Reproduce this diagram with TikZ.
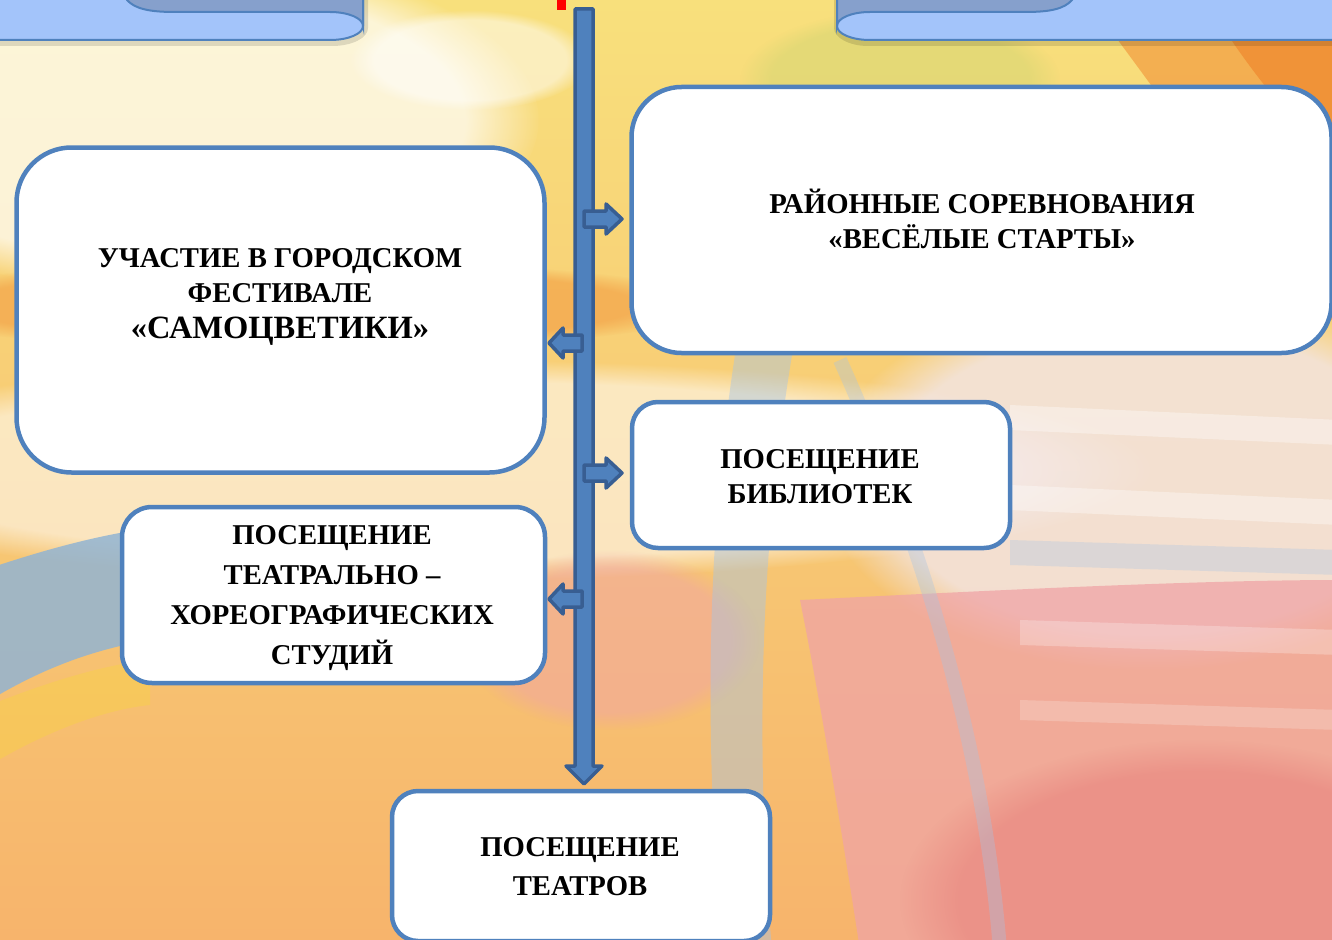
\documentclass[tikz,border=0pt]{standalone}
\usepackage{fontspec}
\setmainfont{Liberation Serif}
\usetikzlibrary{fadings}
\definecolor{bord}{HTML}{4F81BD}
\definecolor{dkbord}{HTML}{385E92}
\definecolor{scrl}{HTML}{A3C4FA}
\definecolor{scrld}{HTML}{86A0CC}
\definecolor{bgtop}{HTML}{F8E07C}
\definecolor{bgmid}{HTML}{F4D2CC}
\definecolor{bgbot}{HTML}{F7B46C}
\definecolor{orng}{HTML}{F08A30}
\definecolor{swoosh}{HTML}{92B4D2}
\definecolor{pinkr}{HTML}{F0A4A6}
\definecolor{salm}{HTML}{E8847E}
\definecolor{arcblue}{HTML}{A6C4E4}
\definecolor{greeny}{HTML}{D4D672}
\definecolor{lav}{HTML}{F2E8F0}
\tikzset{
  box/.style={draw=bord, line width=4.5pt, fill=white},
  boxtext/.style={align=center, inner sep=0pt, font=\fontsize{28.7}{35}\selectfont\bfseries},
  blockarrow/.style={draw=dkbord, line width=3.5pt, fill=bord, line join=round},
  scrollline/.style={draw=bord, line width=2pt},
  soft/.style={path fading=circle with fuzzy edge 20 percent}
}
\begin{document}
\begin{tikzpicture}[x=1pt,y=-1pt]
\useasboundingbox (0,0) rectangle (1332,939);
\clip (0,0) rectangle (1332,939);
% ---------- background ----------
\shade[top color=bgtop, middle color=bgmid, bottom color=bgbot] (0,0) rectangle (1332,939);
\fill[white, opacity=.7, soft] (160,120) ellipse (380 and 170);
\fill[white, opacity=.5, soft] (470,60) ellipse (120 and 50);
\fill[greeny, opacity=.55, soft] (900,80) ellipse (160 and 70);
\fill[orng, opacity=.55] (1080,-10) .. controls (1150,80) and (1230,200) .. (1340,330) -- (1340,-10) -- cycle;
\fill[orng, opacity=.75] (1200,-10) .. controls (1240,60) and (1290,120) .. (1340,170) -- (1340,-10) -- cycle;
\fill[orng, opacity=.45, soft] (300,305) ellipse (420 and 45);
\fill[white, opacity=.55, soft] (450,470) ellipse (700 and 110);
\fill[lav, opacity=.75, soft] (1150,480) ellipse (330 and 190);
\fill[white, opacity=.35] (1010,405) -- (1340,420) -- (1340,445) -- (1010,430) -- cycle;
\fill[white, opacity=.35] (1010,485) -- (1340,500) -- (1340,525) -- (1010,510) -- cycle;
\fill[arcblue, opacity=.3] (1010,540) -- (1340,550) -- (1340,575) -- (1010,565) -- cycle;
\fill[swoosh, opacity=.85] (-10,568) .. controls (50,548) and (100,535) .. (150,528) -- (150,640) .. controls (90,650) and (40,670) .. (-10,700) -- cycle;
\fill[yellow!60!bgbot, opacity=.3] (-10,705) .. controls (40,685) and (100,665) .. (150,660) -- (150,705) .. controls (100,710) and (40,735) .. (-10,765) -- cycle;
\fill[pinkr, opacity=.5, soft] (610,640) ellipse (150 and 90);
\fill[pinkr, opacity=.75] (800,600) .. controls (1000,590) and (1200,580) .. (1340,580) -- (1340,950) -- (860,950) .. controls (840,820) and (820,700) .. (800,600) -- cycle;
\fill[salm, opacity=.6, soft] (1200,900) ellipse (300 and 160);
\fill[white, opacity=.25] (1020,620) -- (1340,630) -- (1340,655) -- (1020,645) -- cycle;
\fill[white, opacity=.2] (1020,700) -- (1340,710) -- (1340,730) -- (1020,720) -- cycle;
\fill[arcblue, opacity=.45] (735,355) .. controls (705,550) and (705,750) .. (722,950) -- (772,950) .. controls (755,750) and (760,550) .. (792,355) -- cycle;
\draw[arcblue, opacity=.35, line width=14pt] (840,360) .. controls (930,560) and (985,760) .. (1000,950);
% ---------- scrolls at top ----------
\fill[black, opacity=.12] (-5,-5) -- (-5,46) -- (332,46) .. controls (352,46) and (368,38) .. (368,28) -- (368,-5) -- cycle;
\fill[black, opacity=.12] (1340,-5) -- (1340,46) -- (868,46) .. controls (850,46) and (834,38) .. (834,28) -- (834,-5) -- cycle;
\path[fill=scrl, scrollline] (-5,-5) -- (-5,40) -- (330,40) .. controls (348,40) and (363,34) .. (363,26) -- (363,-5) -- cycle;
\path[fill=scrld, scrollline] (127,-5) -- (127,0) .. controls (135,9) and (150,12) .. (175,12) -- (330,12) .. controls (348,12) and (363,18) .. (363,26) -- (363,-5) -- cycle;
\path[fill=scrl, scrollline] (1340,-5) -- (1340,40) -- (870,40) .. controls (852,40) and (837,34) .. (837,26) -- (837,-5) -- cycle;
\path[fill=scrld, scrollline] (1072,-5) -- (1072,0) .. controls (1064,9) and (1050,12) .. (1025,12) -- (870,12) .. controls (852,12) and (837,18) .. (837,26) -- (837,-5) -- cycle;
\fill[red] (557,-2) rectangle (566,10);
% ---------- main arrow ----------
\path[blockarrow] (575,9) -- (593,9) -- (593,766) -- (602,766) -- (584,784) -- (566,766) -- (575,766) -- cycle;
% ---------- boxes ----------
\node[box, minimum width=528pt, minimum height=325pt, rounded corners=55pt] (b1) at (280.5,310) {};
\node[box, minimum width=700pt, minimum height=266pt, rounded corners=50pt] (b2) at (981.5,220) {};
\node[box, minimum width=378pt, minimum height=146pt, rounded corners=26pt] (b3) at (821,475) {};
\node[box, minimum width=423pt, minimum height=176pt, rounded corners=30pt] (b4) at (333.5,595) {};
\node[box, minimum width=378pt, minimum height=150pt, rounded corners=26pt] (b5) at (581,866) {};
% ---------- texts ----------
\node[boxtext] (t1) at (280,297) {УЧАСТИЕ В ГОРОДСКОМ\\ФЕСТИВАЛЕ\\[1pt]{\fontsize{32.5}{36}\selectfont «САМОЦВЕТИКИ»}};
\node[boxtext] (t2) at (982,219) {РАЙОННЫЕ СОРЕВНОВАНИЯ\\«ВЕСЁЛЫЕ СТАРТЫ»};
\node[boxtext] (t3) at (820,477) {ПОСЕЩЕНИЕ\\БИБЛИОТЕК};
\node[boxtext, font=\fontsize{28.7}{40}\selectfont\bfseries] (t4) at (332,598) {ПОСЕЩЕНИЕ\\ТЕАТРАЛЬНО –\\ХОРЕОГРАФИЧЕСКИХ\\СТУДИЙ};
\node[boxtext, font=\fontsize{28.7}{39}\selectfont\bfseries] (t5) at (580,867) {ПОСЕЩЕНИЕ\\ТЕАТРОВ};
% ---------- small block arrows ----------
\path[blockarrow] (584,211) -- (606,211) -- (606,204) -- (622,219) -- (606,234) -- (606,227) -- (584,227) -- cycle;
\path[blockarrow] (582,335) -- (563,335) -- (563,328) -- (549,343) -- (563,358) -- (563,351) -- (582,351) -- cycle;
\path[blockarrow] (584,465) -- (606,465) -- (606,458) -- (622,473) -- (606,488) -- (606,481) -- (584,481) -- cycle;
\path[blockarrow] (582,591) -- (563,591) -- (563,584) -- (549,599) -- (563,614) -- (563,607) -- (582,607) -- cycle;
\end{tikzpicture}
\end{document}
